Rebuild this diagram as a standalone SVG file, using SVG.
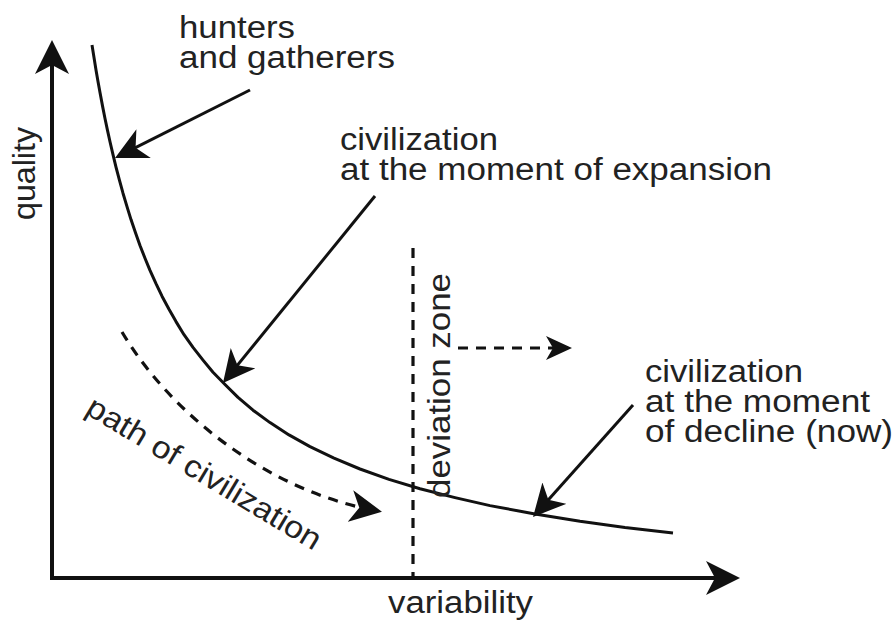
<svg xmlns="http://www.w3.org/2000/svg" width="896" height="621" viewBox="0 0 896 621">
  <style>
    .t { font-family: "Liberation Sans", Arial, sans-serif; font-size: 31px; fill: #222; }
    .ln { fill: none; stroke: #111; stroke-width: 3; stroke-linejoin: round; }
    .ax { fill: none; stroke: #111; stroke-width: 4; }
    .dash { fill: none; stroke: #111; stroke-width: 3.2; stroke-dasharray: 10 8; }
  </style>
  <defs>
    <marker id="headBig" viewBox="-34 -17 34 34" refX="-4" refY="0" markerWidth="34" markerHeight="34" markerUnits="userSpaceOnUse" orient="auto">
      <path d="M0,0 L-34,-17 L-25,0 L-34,17 Z" fill="#111"/>
    </marker>
    <marker id="headMed" viewBox="-32 -16 32 32" refX="-4" refY="0" markerWidth="32" markerHeight="32" markerUnits="userSpaceOnUse" orient="auto">
      <path d="M0,0 L-32,-16 L-23,0 L-32,16 Z" fill="#111"/>
    </marker>
    <marker id="headSmall" viewBox="-26 -12 26 24" refX="-4" refY="0" markerWidth="26" markerHeight="24" markerUnits="userSpaceOnUse" orient="auto">
      <path d="M0,0 L-26,-12 L-19,0 L-26,12 Z" fill="#111"/>
    </marker>
  </defs>
  <rect width="896" height="621" fill="#fff"/>

  <g id="axes">
    <path class="ax" d="M52,578 L52,44" marker-end="url(#headBig)"/>
    <path class="ax" d="M50,578 L736,578" marker-end="url(#headBig)"/>
  </g>

  <g id="curve">
    <path class="ln" d="M92,45 L94,57.6 L96,69.9 L98,81.5 L100,92.6 L102.5,105.9 L105,118.5 L107.5,130.4 L110,141.8 L113,154.7 L116,167.1 L119.5,180.3 L123,193.2 L127,206.6 L131,219.6 L135.5,232.8 L140,245.5 L145,258.2 L150,270.4 L156,283.7 L162,296.2 L169,309.3 L176,321.6 L184,334.7 L193,347.4 L203,360.1 L213,372.3 L225,384.5 L238,397.4 L253,410.2 L270,422.6 L289,434.9 L310,446.6 L334,458.1 L360,469.0 L389,479.4 L420,488.8 L455,497.6 L490,505.6 L535,514.0 L580,521.3 L625,527.5 L673,533"/>
  </g>

  <g id="connectors">
    <path class="ln" d="M250,90 L118.6,156.2" marker-end="url(#headMed)"/>
    <path class="ln" d="M375,196 L225.5,379.9" marker-end="url(#headMed)"/>
    <path class="ln" d="M633,405 L535.7,514" marker-end="url(#headMed)"/>
    <path class="dash" d="M122,332 C165,405 260,490 378,511" marker-end="url(#headMed)"/>
    <path class="dash" d="M413,248 L413,578"/>
    <path class="dash" d="M458,348 L568,348" marker-end="url(#headSmall)"/>
  </g>

  <g id="label-quality">
    <text class="t" transform="translate(35,220) rotate(-90)" textLength="93" lengthAdjust="spacingAndGlyphs">quality</text>
  </g>
  <g id="label-variability">
    <text class="t" x="388" y="613" textLength="145" lengthAdjust="spacingAndGlyphs">variability</text>
  </g>
  <g id="label-hunters">
    <text class="t" x="179" y="38" textLength="116" lengthAdjust="spacingAndGlyphs">hunters</text>
    <text class="t" x="179" y="68" textLength="216" lengthAdjust="spacingAndGlyphs">and gatherers</text>
  </g>
  <g id="label-expansion">
    <text class="t" x="340" y="150" textLength="158" lengthAdjust="spacingAndGlyphs">civilization</text>
    <text class="t" x="340" y="180" textLength="432" lengthAdjust="spacingAndGlyphs">at the moment of expansion</text>
  </g>
  <g id="label-decline">
    <text class="t" x="645" y="382" textLength="158" lengthAdjust="spacingAndGlyphs">civilization</text>
    <text class="t" x="645" y="412" textLength="225" lengthAdjust="spacingAndGlyphs">at the moment</text>
    <text class="t" x="645" y="442" textLength="248" lengthAdjust="spacingAndGlyphs">of decline (now)</text>
  </g>
  <g id="label-deviation">
    <text class="t" transform="translate(450,498) rotate(-90)" textLength="225" lengthAdjust="spacingAndGlyphs">deviation zone</text>
  </g>
  <g id="label-path">
    <text class="t" transform="translate(84,413) rotate(31)" textLength="268" lengthAdjust="spacingAndGlyphs">path of civilization</text>
  </g>
</svg>
